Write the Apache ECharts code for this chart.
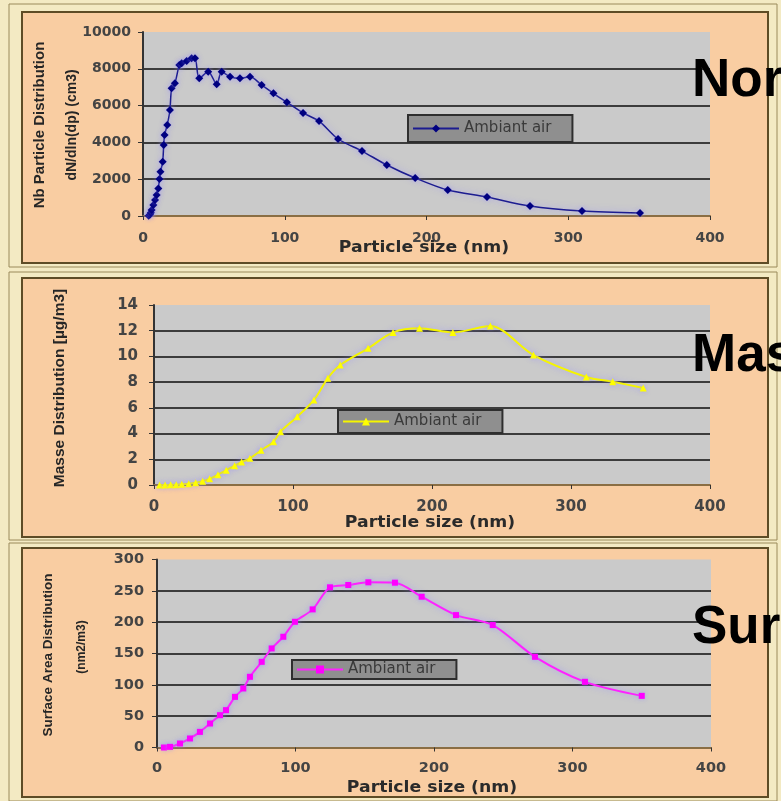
<!DOCTYPE html>
<html>
<head>
<meta charset="utf-8">
<script src="https://cdn.jsdelivr.net/npm/echarts@6/dist/echarts.min.js"></script>
<style>
  html, body { margin: 0; padding: 0; background: #F3EAC3; }
  #chart { width: 781px; height: 801px; }
</style>
</head>
<body>
<div id="chart"></div>
<script>
// ---- Data ----
const xTicks = [0, 100, 200, 300, 400];

// Panel 1: number distribution
const nbX = [4, 5, 5.5, 6.1, 7.3, 8.5, 9.6, 10.8, 11.6, 12.3, 13.9, 14.6, 15.2, 17.1, 19, 20.2, 22.5, 25.6, 27.3, 30.8, 34.3, 36.7, 39.7, 46, 52, 55.5, 61.4, 68.4, 75.5, 83.7, 92, 101.5, 112.9, 124.2, 137.6, 154.5, 172, 192, 215, 242.7, 273, 309.7, 350.6];
const nbY = [20, 80, 180, 330, 600, 870, 1140, 1500, 2010, 2400, 2950, 3860, 4400, 4950, 5760, 6940, 7210, 8200, 8300, 8420, 8570, 8570, 7480, 7840, 7160, 7840, 7570, 7480, 7570, 7120, 6670, 6180, 5600, 5160, 4185, 3530, 2770, 2065, 1410, 1030, 540, 270, 160];

// Panel 2: mass distribution
const massX = [4, 8, 12, 16, 20, 25, 30, 35, 40, 46, 52, 58, 63, 69, 77, 86, 91, 103, 115, 125, 134, 154, 172, 191, 215, 242, 273, 311, 330, 352];
const massY = [0, 0, 0.01, 0.02, 0.05, 0.1, 0.18, 0.3, 0.48, 0.8, 1.15, 1.5, 1.78, 2.08, 2.7, 3.37, 4.14, 5.31, 6.61, 8.3, 9.33, 10.63, 11.87, 12.19, 11.87, 12.36, 10.11, 8.4, 8.03, 7.55];

// Panel 3: surface area distribution
const surfX = [5, 9.4, 16.6, 23.8, 31, 38.3, 45.5, 49.8, 56.3, 62.3, 67.1, 75.6, 82.8, 91.2, 99.6, 112.4, 124.9, 138.1, 152.6, 171.8, 191.1, 215.9, 242.4, 272.9, 309, 350];
const surfY = [0, 1, 6.4, 14.4, 24.9, 38.3, 51.6, 59.6, 80.8, 94.2, 112.8, 136.7, 158.1, 176.7, 200.6, 220.4, 255.6, 259.3, 263.6, 263, 240.6, 211.3, 195.4, 144.7, 104.8, 82.4];

const seriesNames = ['Ambiant air', 'Ambiant air ', 'Ambiant air  '];
const legendLabel = 'Ambiant air';
const xTitle = 'Particle size (nm)';
const yTitles = [['Nb Particle Distribution', 'dN/dln(dp) (cm3)'], ['Masse Distribution [µg/m3]'], ['Surface Area Distribution', '(nm2/m3)']];
const sideLabels = ['Nor', 'Mas', 'Sur'];

// ---- Styling / layout ----
const FONT = 'Liberation Sans';
const WIDE = 'DejaVu Sans';
const PEACH = '#F9CDA2';
const PLOT = '#CACACA';
const GRIDC = '#3c3c3c';

const panels = [
  { outer: [9, 4, 768, 263], inner: [22, 12, 746, 251], grid: { left: 143, top: 32, width: 567, height: 184 },
    yMax: 10000, yInt: 2000, legend: { left: 408, top: 115 }, legPad: [6, 21, 6, 4], xTitle: [424, 248], side: [692, 79],
    yMargin: 12, xMargin: 15, tickFont: 14,
    yT: [[40, 125, 15], [72, 125, 14]], color: '#000080', line: '#1c1c90', symbol: 'diamond', size: 8 },
  { outer: [9, 272, 768, 268], inner: [22, 278, 746, 259], grid: { left: 154, top: 305, width: 556, height: 180 },
    yMax: 14, yInt: 2, legend: { left: 338, top: 410 }, legPad: [4, 21, 4, 4], xTitle: [430, 523], side: [692, 354],
    yMargin: 16, xMargin: 15, tickFont: 15,
    yT: [[60, 388, 15.5]], color: '#FFFF00', line: '#F5F500', symbol: 'triangle', size: 7 },
  { outer: [9, 543, 768, 258], inner: [22, 548, 746, 249], grid: { left: 157, top: 559.5, width: 554, height: 188 },
    yMax: 300, yInt: 50, legend: { left: 292, top: 660 }, legPad: [2, 21, 2, 4], xTitle: [432, 788], side: [692, 626],
    yMargin: 13, xMargin: 13, tickFont: 14.5,
    yT: [[48, 655, 13.5], [82, 647, 12]], color: '#FF00FF', line: '#FF22FF', symbol: 'rect', size: 6 }
];
const dataSets = [[nbX, nbY], [massX, massY], [surfX, surfY]];

const graphics = [];
panels.forEach((p, i) => {
  graphics.push({ type: 'rect', z: -100, silent: true,
    shape: { x: p.outer[0], y: p.outer[1], width: p.outer[2], height: p.outer[3] },
    style: { fill: '#F3EAC3', stroke: '#9a8a5a', lineWidth: 1 } });
  graphics.push({ type: 'rect', z: -99, silent: true,
    shape: { x: p.inner[0], y: p.inner[1], width: p.inner[2], height: p.inner[3] },
    style: { fill: PEACH, stroke: '#5e4c26', lineWidth: 2 } });
  graphics.push({ type: 'text', z: 50, left: p.side[0], top: p.side[1] - 24,
    style: { text: sideLabels[i], fill: '#000', font: 'bold 53px ' + FONT } });
  graphics.push({ type: 'text', z: 50, x: p.xTitle[0], y: p.xTitle[1], scaleX: 1.15,
    style: { text: xTitle, fill: '#2a2a2a', font: 'bold 15px ' + WIDE, textAlign: 'center', textVerticalAlign: 'middle' } });
  p.yT.forEach((pos, k) => {
    graphics.push({ type: 'text', z: 50, x: pos[0], y: pos[1], rotation: Math.PI / 2,
      style: { text: yTitles[i][k], fill: '#262626', font: 'bold ' + pos[2] + 'px ' + FONT, textAlign: 'center', textVerticalAlign: 'middle' } });
  });
});

const option = {
  animation: false,
  backgroundColor: 'transparent',
  graphic: { elements: graphics },
  grid: panels.map(p => Object.assign({ show: true, backgroundColor: PLOT, borderWidth: 0 }, p.grid)),
  xAxis: panels.map((p, i) => ({
    type: 'value', gridIndex: i, min: xTicks[0], max: xTicks[xTicks.length - 1], interval: 100,
    axisLine: { show: true, lineStyle: { color: '#8a6e44', width: 2 } },
    axisTick: { show: true, length: 4, lineStyle: { color: '#333' } },
    axisLabel: { margin: p.xMargin, fontFamily: WIDE, fontWeight: 'bold', fontSize: p.tickFont, color: '#444' },
    splitLine: { show: false }
  })),
  yAxis: panels.map((p, i) => ({
    type: 'value', gridIndex: i, min: 0, max: p.yMax, interval: p.yInt,
    axisLine: { show: true, onZero: false, lineStyle: { color: '#333', width: 2 } },
    axisTick: { show: true, length: 5, lineStyle: { color: '#333' } },
    axisLabel: { margin: p.yMargin, fontFamily: WIDE, fontWeight: 'bold', fontSize: p.tickFont, color: '#444',
      formatter: v => String(v) },
    splitLine: { show: true, showMaxLine: false, showMinLine: false, lineStyle: { color: GRIDC, width: 2 } }
  })),
  legend: panels.map((p, i) => ({
    left: p.legend.left, top: p.legend.top, data: [seriesNames[i]],
    formatter: () => legendLabel,
    backgroundColor: '#8f8f8f', borderColor: '#2e2e2e', borderWidth: 2, borderRadius: 0,
    padding: p.legPad, itemWidth: 46, itemHeight: 10, itemGap: 5,
    textStyle: { fontFamily: WIDE, fontSize: 15, color: '#3a3a3a' }
  })),
  series: panels.map((p, i) => ({
    name: seriesNames[i], type: 'line', xAxisIndex: i, yAxisIndex: i,
    data: dataSets[i][0].map((x, k) => [x, dataSets[i][1][k]]),
    smooth: 0.3, symbol: p.symbol, symbolSize: p.size, showSymbol: true,
    lineStyle: { color: p.line, width: i === 0 ? 1.5 : 2, shadowColor: 'rgba(150,140,255,0.7)', shadowBlur: 6 },
    itemStyle: { color: p.color, shadowColor: 'rgba(150,140,255,0.6)', shadowBlur: 4 }
  }))
};

const chart = echarts.init(document.getElementById('chart'), null, { renderer: 'canvas' });
chart.setOption(option);
</script>
</body>
</html>
